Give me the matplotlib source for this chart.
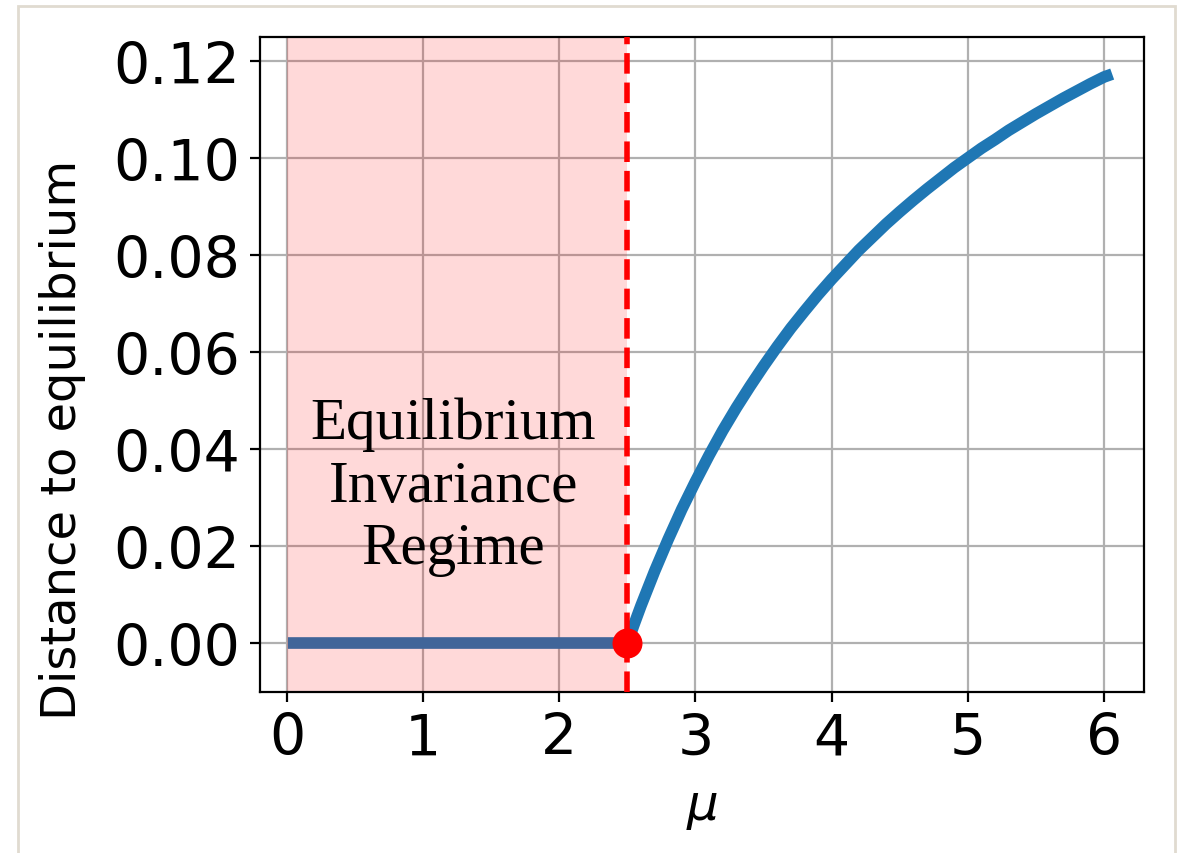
import matplotlib
matplotlib.use("Agg")
import matplotlib.pyplot as plt
from matplotlib.patches import Rectangle

# flat part (equilibrium invariance), then the rising branch
mu_flat = [0.05, 2.5]
dist_flat = [0.0, 0.0]
mu_curve = [2.5, 2.55, 2.6, 2.7, 2.8, 2.9, 3.0, 3.1, 3.2, 3.3, 3.4, 3.5,
            3.6, 3.7, 3.8, 3.9, 4.0, 4.1, 4.2, 4.3, 4.4, 4.5, 4.6, 4.7, 4.8, 4.9,
            5.0, 5.1, 5.2, 5.3, 5.4, 5.5, 5.6, 5.7, 5.8, 5.9, 6.0, 6.02]
dist_curve = [0.0, 0.0039, 0.0077, 0.0148, 0.0214, 0.0276, 0.0333, 0.0387, 0.0438,
              0.0485, 0.0529, 0.0571, 0.0611, 0.0649, 0.0684, 0.0718, 0.0750, 0.0780,
              0.0810, 0.0837, 0.0864, 0.0889, 0.0913, 0.0936, 0.0958, 0.0980, 0.1000,
              0.1020, 0.1038, 0.1057, 0.1074, 0.1091, 0.1107, 0.1123, 0.1138, 0.1153,
              0.1167, 0.1169]
mu_crit = 2.5
yticks = [0.0, 0.02, 0.04, 0.06, 0.08, 0.10, 0.12]
xticks = [0, 1, 2, 3, 4, 5, 6]

fig = plt.figure(figsize=(5.93, 4.27), dpi=200)
ax = fig.add_axes([260 / 1186, 161 / 854, 884 / 1186, 655 / 854])

#outer frame
fig.patches.append(Rectangle((18 / 1186, -0.02), 1157 / 1186, 1.02 - 7 / 854,
                             transform=fig.transFigure, fill=False,
                             edgecolor="#e0dbd0", linewidth=1.0))

ax.grid(True, zorder=0.5)
ax.set_axisbelow(True)
ax.plot(mu_flat + mu_curve[1:], dist_flat + dist_curve[1:], color="tab:blue",
        linewidth=4.2, zorder=1.5)
ax.axvspan(0, mu_crit, color="red", alpha=0.15, linewidth=0, zorder=2)
ax.axvline(mu_crit, color="red", linestyle="--", linewidth=2, zorder=3)
ax.plot([mu_crit], [0.0], "o", color="red", markersize=9.8, zorder=4)

ax.text(1.22, 0.0323, "Equilibrium\nInvariance\nRegime", family="Liberation Serif",
        fontsize=21.3, ha="center", va="center", multialignment="center", zorder=5)

ax.set_xlim(-0.198, 6.294)
ax.set_ylim(-0.0101, 0.12495)
ax.set_xticks(xticks)
ax.set_yticks(yticks)
ax.set_yticklabels([f"{v:.2f}" for v in yticks])
ax.tick_params(labelsize=20.5)
ax.set_xlabel(r"$\mu$", fontsize=18, labelpad=6)
fig.text(63 / 1186, 1 - 440 / 854, "Distance to equilibrium", rotation=90,
         fontsize=17.3, ha="center", va="center")

fig.savefig("out.png", dpi=200)
